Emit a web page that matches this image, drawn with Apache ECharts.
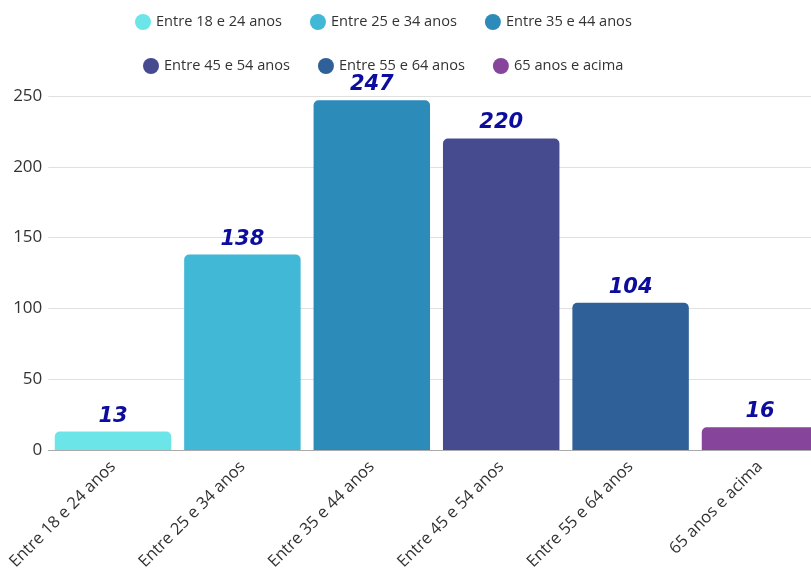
<!DOCTYPE html>
<html>
<head>
<meta charset="utf-8">
<script src="https://cdn.jsdelivr.net/npm/echarts@6/dist/echarts.min.js"></script>
<style>html,body{margin:0;padding:0;background:#fff}#c{width:811px;height:574px}</style>
</head>
<body>
<div id="c"></div>
<script>
const categories = ['Entre 18 e 24 anos','Entre 25 e 34 anos','Entre 35 e 44 anos','Entre 45 e 54 anos','Entre 55 e 64 anos','65 anos e acima'];
const values = [13, 138, 247, 220, 104, 16];
const colors = ['#6ce5e8','#41b8d5','#2d8bba','#464a8f','#2f6098','#86459b'];
const yTicks = [0, 50, 100, 150, 200, 250];

const series = categories.map((name, i) => ({
  name: name,
  type: 'bar',
  stack: 'all',
  barCategoryGap: '10%',
  itemStyle: { color: colors[i], borderRadius: [5,5,0,0] },
  label: {
    show: true, position: 'top', distance: 5,
    color: '#0c0c9e', fontFamily: 'DejaVu Sans', fontWeight: 'bold', fontStyle: 'italic', fontSize: 21
  },
  data: values.map((v, j) => j === i ? v : null)
}));

const legendStyle = {
  icon: 'circle', itemWidth: 16, itemHeight: 16, itemGap: 28, orient: 'horizontal',
  textStyle: { fontFamily: 'Open Sans', fontSize: 14.6, color: '#333' }
};

const chart = echarts.init(document.getElementById('c'));
chart.setOption({
  animation: false,
  legend: [
    Object.assign({ data: categories.slice(0, 3), top: 9, left: 130 }, legendStyle),
    Object.assign({ data: categories.slice(3), top: 53, left: 138 }, legendStyle)
  ],
  grid: { left: 48.3, width: 776.4, top: 96, bottom: 124, containLabel: false, outerBoundsMode: 'none' },
  xAxis: {
    type: 'category', data: categories,
    axisLine: { show: true, lineStyle: { color: '#aaa', width: 1 } },
    axisTick: { show: false },
    axisLabel: { rotate: 45, interval: 0, fontFamily: 'Open Sans', fontSize: 16.5, color: '#333', margin: 14 }
  },
  yAxis: {
    type: 'value', min: yTicks[0], max: yTicks[yTicks.length-1], interval: 50,
    axisLine: { show: false }, axisTick: { show: false },
    axisLabel: { fontFamily: 'Open Sans', fontSize: 17, color: '#333', margin: 6 },
    splitLine: { lineStyle: { color: '#e0e0e0', width: 1 } }
  },
  series: series
});
</script>
</body>
</html>
